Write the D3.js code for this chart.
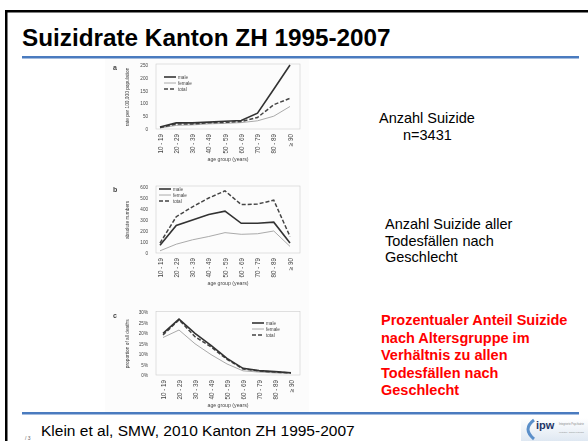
<!DOCTYPE html>
<meta charset="utf-8">
<title>Suizidrate Kanton ZH 1995-2007</title>
<style>
  body { margin: 0; background: #fff; }
  svg { display: block; font-family: "Liberation Sans", Arial, sans-serif; }
  .panel text { fill: #444; }
  .panel .domain { display: none; }
  .frame { fill: none; stroke: #cccccc; stroke-width: 0.6; }
  .male { fill: none; stroke: #333; stroke-width: 1.6; }
  .female { fill: none; stroke: #a0a0a0; stroke-width: 0.9; }
  .total { fill: none; stroke: #444; stroke-width: 1.5; stroke-dasharray: 4, 2; }
</style>
<body>
<script src="https://cdn.jsdelivr.net/npm/d3@7"></script>
<script>
var ageGroups = ["10 - 19", "20 - 29", "30 - 39", "40 - 49", "50 - 59", "60 - 69", "70 - 79", "80 - 89", "≥ 90"];
var seriesNames = ["male", "female", "total"];

// a: suicide rate per 100'000
var rateMale   = [8, 24, 24, 27, 30, 33, 62, 155, 250];
var rateFemale = [4, 14, 16, 20, 22, 25, 32, 50, 88];
var rateTotal  = [6, 19, 20, 24, 26, 29, 45, 95, 120];
// b: absolute numbers
var countMale   = [70, 250, 300, 350, 380, 270, 270, 280, 90];
var countFemale = [20, 80, 120, 150, 185, 170, 175, 200, 60];
var countTotal  = [90, 330, 420, 500, 565, 440, 445, 480, 150];
// c: share of suicides among all deaths (%)
var shareMale   = [20, 26.8, 20, 14.2, 8, 3.2, 2.1, 1.6, 1.1];
var shareFemale = [18, 21.6, 15, 9.8, 5.3, 2, 1.4, 1, 0.8];
var shareTotal  = [19.2, 26.5, 18.4, 13.5, 7.5, 2.9, 1.9, 1.4, 1];

var rightNotes = [
  {x: 379, y: 123, lines: ["Anzahl Suizide"], red: false},
  {x: 403, y: 140, lines: ["n=3431"], red: false},
  {x: 385, y: 229, lines: ["Anzahl Suizide aller", "Todesfällen nach", "Geschlecht"], red: false},
  {x: 381, y: 325, lines: ["Prozentualer Anteil Suizide", "nach Altersgruppe im", "Verhältnis zu allen", "Todesfällen nach", "Geschlecht"], red: true}
];

var logoLines = ["Integrierte Psychiatrie", "Winterthur - Zürcher Unterland"];

var W = 588, H = 441;
var blue = "#4a7bbf";

var svg = d3.select("body").append("svg")
    .attr("width", W)
    .attr("height", H);

svg.append("rect").attr("width", W).attr("height", H).attr("fill", "#fff");

var defs = svg.append("defs");
defs.append("filter").attr("id", "soft")
    .attr("x", "-5%").attr("y", "-5%").attr("width", "110%").attr("height", "110%")
  .append("feGaussianBlur").attr("stdDeviation", 0.75);

var lg = defs.append("linearGradient").attr("id", "logoGrad")
    .attr("x1", 0).attr("y1", 0).attr("x2", 0).attr("y2", 1);
lg.append("stop").attr("offset", 0).attr("stop-color", "#ffffff");
lg.append("stop").attr("offset", 1).attr("stop-color", "#dfe8f2");

// slide frame (black, top + left)
svg.append("rect").attr("x", 5).attr("y", 10).attr("width", W - 5).attr("height", 2.5).attr("fill", "#000");
svg.append("rect").attr("x", 5).attr("y", 10).attr("width", 2.5).attr("height", H - 10).attr("fill", "#000");

svg.append("text")
    .attr("x", 22).attr("y", 46)
    .attr("font-size", 24.3).attr("font-weight", "bold").attr("fill", "#000")
    .text("Suizidrate Kanton ZH 1995-2007");

// chart picture
svg.append("rect").attr("x", 105).attr("y", 58).attr("width", 204).attr("height", 354).attr("fill", "#fcfcfc");

var panels = [
  {letter: "a", top: 65, bottom: 129, yMax: 250, yStep: 50, fmt: d3.format("d"),
   yTitle: "rate per 100,000 population", xl: 160, xr: 290,
   data: [rateMale, rateFemale, rateTotal], legend: [164, 77]},
  {letter: "b", top: 187, bottom: 253, yMax: 600, yStep: 100, fmt: d3.format("d"),
   yTitle: "absolute numbers", xl: 160, xr: 290,
   data: [countMale, countFemale, countTotal], legend: [159, 189]},
  {letter: "c", top: 312.5, bottom: 375, yMax: 30, yStep: 5, fmt: function(d) { return d + "%"; },
   yTitle: "proportion of all deaths", xl: 163, xr: 291,
   data: [shareMale, shareFemale, shareTotal], legend: [252, 323]}
];

var chartG = svg.append("g").attr("class", "panel").attr("filter", "url(#soft)");

panels.forEach(function(p) {
  var g = chartG.append("g");
  var left = 156, right = 300;

  var x = d3.scalePoint().domain(ageGroups).range([p.xl, p.xr]);
  var y = d3.scaleLinear().domain([0, p.yMax]).range([p.bottom, p.top]);

  g.append("rect").attr("class", "frame")
      .attr("x", left).attr("y", p.top - 1)
      .attr("width", right - left).attr("height", p.bottom - p.top + 1);

  var yAxis = d3.axisLeft(y)
      .tickValues(d3.range(0, p.yMax + 1, p.yStep))
      .tickFormat(p.fmt).tickSize(0).tickPadding(8);
  g.append("g").attr("transform", "translate(" + left + ",0)")
      .call(yAxis)
      .selectAll("text").attr("font-size", 4.6).attr("font-family", "Liberation Sans, Arial, sans-serif");

  var xAxis = d3.axisBottom(x).tickSize(0).tickPadding(0);
  g.append("g").attr("transform", "translate(0," + (p.bottom + 3) + ")")
      .call(xAxis)
      .selectAll("text")
      .attr("font-size", 6.3)
      .attr("font-family", "Liberation Sans, Arial, sans-serif")
      .attr("transform", "rotate(-90)")
      .attr("x", -2).attr("y", 0).attr("dy", "0.35em")
      .style("text-anchor", "end");

  g.append("text")
      .attr("x", (left + right) / 2).attr("y", p.bottom + 32)
      .attr("text-anchor", "middle").attr("font-size", 5.2)
      .text("age group (years)");

  g.append("text")
      .attr("transform", "translate(129," + ((p.top + p.bottom) / 2) + ") rotate(-90)")
      .attr("text-anchor", "middle").attr("font-size", 4.8)
      .text(p.yTitle);

  g.append("text")
      .attr("x", 113).attr("y", p.top + 5)
      .attr("font-size", 7).attr("font-weight", "bold")
      .text(p.letter);

  var line = d3.line()
      .x(function(d, i) { return x(ageGroups[i]); })
      .y(function(d) { return y(d); });

  // draw female first so male/total lie on top
  [1, 2, 0].forEach(function(k) {
    g.append("path").datum(p.data[k])
        .attr("class", seriesNames[k])
        .attr("d", line);
  });

  var leg = g.append("g").attr("transform", "translate(" + p.legend[0] + "," + p.legend[1] + ")");
  seriesNames.forEach(function(name, k) {
    var row = leg.append("g").attr("transform", "translate(0," + (k * 6) + ")");
    row.append("line").attr("class", name).attr("x1", 0).attr("x2", 12).attr("y1", 0).attr("y2", 0);
    row.append("text").attr("x", 14).attr("y", 1.6).attr("font-size", 4.6).text(name);
  });
});

// blue rules
svg.append("rect").attr("x", 22).attr("y", 56).attr("width", 557).attr("height", 2.5).attr("fill", blue);
svg.append("rect").attr("x", 22).attr("y", 412).attr("width", 557).attr("height", 2.5).attr("fill", blue);

rightNotes.forEach(function(n) {
  var t = svg.append("text")
      .attr("x", n.x).attr("y", n.y)
      .attr("font-size", 14.5)
      .attr("font-weight", n.red ? "bold" : "normal")
      .attr("fill", n.red ? "#ff0000" : "#000");
  n.lines.forEach(function(s, i) {
    t.append("tspan").attr("x", n.x).attr("dy", i === 0 ? 0 : (n.red ? 17.5 : 16.7)).text(s);
  });
});

svg.append("text")
    .attr("x", 41).attr("y", 436)
    .attr("font-size", 15.5).attr("fill", "#000")
    .text("Klein et al, SMW, 2010 Kanton ZH 1995-2007");

svg.append("text")
    .attr("x", 25).attr("y", 439.5)
    .attr("font-size", 5).attr("fill", "#666")
    .text("/ 3");

// ipw logo
var logo = svg.append("g").attr("transform", "translate(521,418)");
logo.append("rect").attr("width", 67).attr("height", 23).attr("fill", "url(#logoGrad)");
logo.append("path")
    .attr("d", "M13,2 Q1,11 13,21")
    .attr("fill", "none").attr("stroke", "#5b8fc9").attr("stroke-width", 3);
logo.append("text").attr("x", 15).attr("y", 11)
    .attr("font-size", 11).attr("font-weight", "bold").attr("fill", "#1f3566")
    .text("ipw");
logoLines.forEach(function(s, i) {
  var t = logo.append("text").attr("x", 38).attr("y", 7 + i * 8)
      .attr("font-size", 3).attr("fill", "#888").text(s);
  // shrink so the line fits inside the logo box
  var w = t.node().getComputedTextLength();
  if (w > 25) t.attr("font-size", 3 * 25 / w);
});
</script>
</body>
